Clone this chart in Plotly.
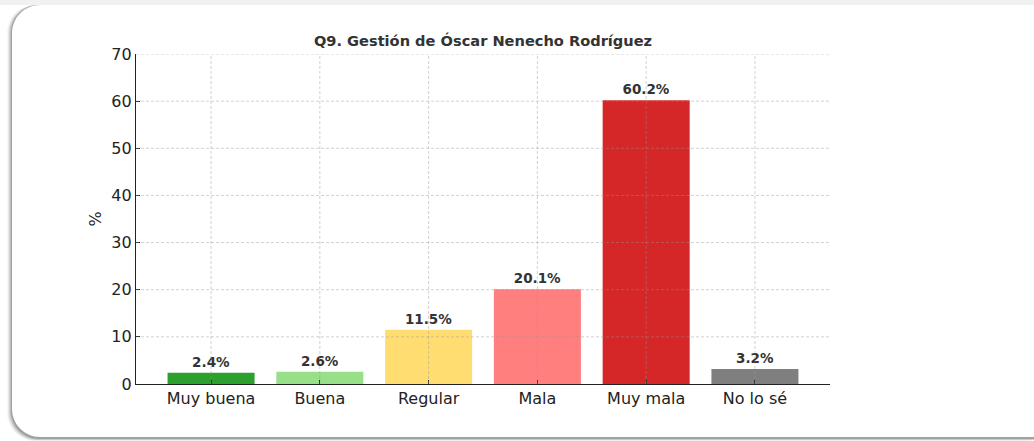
import plotly.graph_objects as go

categories = ["Muy buena", "Buena", "Regular", "Mala", "Muy mala", "No lo sé"]
values = [2.4, 2.6, 11.5, 20.1, 60.2, 3.2]
colors = ["#2ca02c", "#98df8a", "#ffdd71", "#ff7f7f", "#d62728", "#7f7f7f"]
y_ticks = [0, 10, 20, 30, 40, 50, 60, 70]
title = "Q9. Gestión de Óscar Nenecho Rodríguez"

W, H = 1034, 441
ML, MT = 136, 54
PW, PH = 694, 330
MR, MB = W - ML - PW, H - MT - PH


def px(x):
    return (x - ML) / PW


def py(y):
    return 1 - (y - MT) / PH


def rounded(x0, y0, x1, y1, r):
    k = 0.45
    pts = [
        f"M {px(x0 + r)} {py(y0)}",
        f"L {px(x1 - r)} {py(y0)}",
        f"C {px(x1 - r * k)} {py(y0)} {px(x1)} {py(y0 + r * k)} {px(x1)} {py(y0 + r)}",
        f"L {px(x1)} {py(y1 - r)}",
        f"C {px(x1)} {py(y1 - r * k)} {px(x1 - r * k)} {py(y1)} {px(x1 - r)} {py(y1)}",
        f"L {px(x0 + r)} {py(y1)}",
        f"C {px(x0 + r * k)} {py(y1)} {px(x0)} {py(y1 - r * k)} {px(x0)} {py(y1 - r)}",
        f"L {px(x0)} {py(y0 + r)}",
        f"C {px(x0)} {py(y0 + r * k)} {px(x0 + r * k)} {py(y0)} {px(x0 + r)} {py(y0)}",
        "Z",
    ]
    return " ".join(pts)


fig = go.Figure()
fig.add_trace(go.Bar(
    x=categories, y=values, marker=dict(color=colors, line=dict(width=0)),
    width=0.8,
    texttemplate="<b>%{y:.1f}%</b>", textposition="outside",
    textfont=dict(family="DejaVu Sans", size=13.5, color="#333333"),
    cliponaxis=False, hoverinfo="skip",
))

shapes = []
# page top light band
shapes.append(dict(type="rect", xref="paper", yref="paper", layer="below",
                   x0=px(-10), x1=px(1100), y0=py(-10), y1=py(5),
                   fillcolor="rgba(230,230,230,0.55)", line=dict(width=0)))
# card shadow layers
for dx, dy, op in [(-5, 4, 0.05), (-4, 3.5, 0.08), (-3, 3, 0.12), (-2, 2.5, 0.18), (-1, 2, 0.25)]:
    shapes.append(dict(type="path", xref="paper", yref="paper", layer="below",
                       path=rounded(12 + dx, 5, 1060 + dx, 437 + dy, 28),
                       fillcolor=f"rgba(80,80,80,{op})", line=dict(width=0)))
shapes.append(dict(type="path", xref="paper", yref="paper", layer="below",
                   path=rounded(12, 5, 1060, 437, 28),
                   fillcolor="white", line=dict(width=0)))

# grid drawn over the bars
grid_line = dict(color="rgba(150,150,150,0.55)", width=0.8, dash="3px,2px")
for c in categories:
    shapes.append(dict(type="line", xref="x", yref="paper", x0=c, x1=c, y0=0, y1=1,
                       layer="above", line=grid_line))
for t in y_ticks[1:]:
    shapes.append(dict(type="line", xref="paper", yref="y", x0=0, x1=1, y0=t, y1=t,
                       layer="above", line=grid_line))

fig.update_layout(
    width=W, height=H,
    margin=dict(l=ML, r=MR, t=MT, b=MB, pad=0),
    paper_bgcolor="white", plot_bgcolor="rgba(0,0,0,0)",
    showlegend=False,
    shapes=shapes,
    title=dict(text=f"<b>{title}</b>", xref="paper", x=0.5, xanchor="center",
               yref="container", y=1 - 41 / H, yanchor="middle",
               font=dict(family="DejaVu Sans", size=14.6, color="#333333")),
    font=dict(family="DejaVu Sans", size=16, color="#222222"),
    xaxis=dict(
        type="category", range=[-0.69, 5.69],
        showline=True, linecolor="#222222", linewidth=1.2,
        ticks="inside", ticklen=4, tickwidth=1, tickcolor="#222222",
        showgrid=False, zeroline=False, layer="above traces",
        tickfont=dict(family="DejaVu Sans", size=16, color="#222222"),
    ),
    yaxis=dict(
        range=[0, 70], tickvals=y_ticks,
        showline=True, linecolor="#222222", linewidth=1.2,
        ticks="inside", ticklen=4, tickwidth=1, tickcolor="#222222",
        showgrid=False, zeroline=False, layer="above traces",
        tickfont=dict(family="DejaVu Sans", size=16, color="#222222"),
        title=dict(text="%", standoff=5, font=dict(family="DejaVu Sans", size=16, color="#222222")),
    ),
)

fig.write_html(
    "out.html",
    config={"displayModeBar": False},
    post_script="document.body.style.margin='0';document.body.style.overflow='hidden';",
)
